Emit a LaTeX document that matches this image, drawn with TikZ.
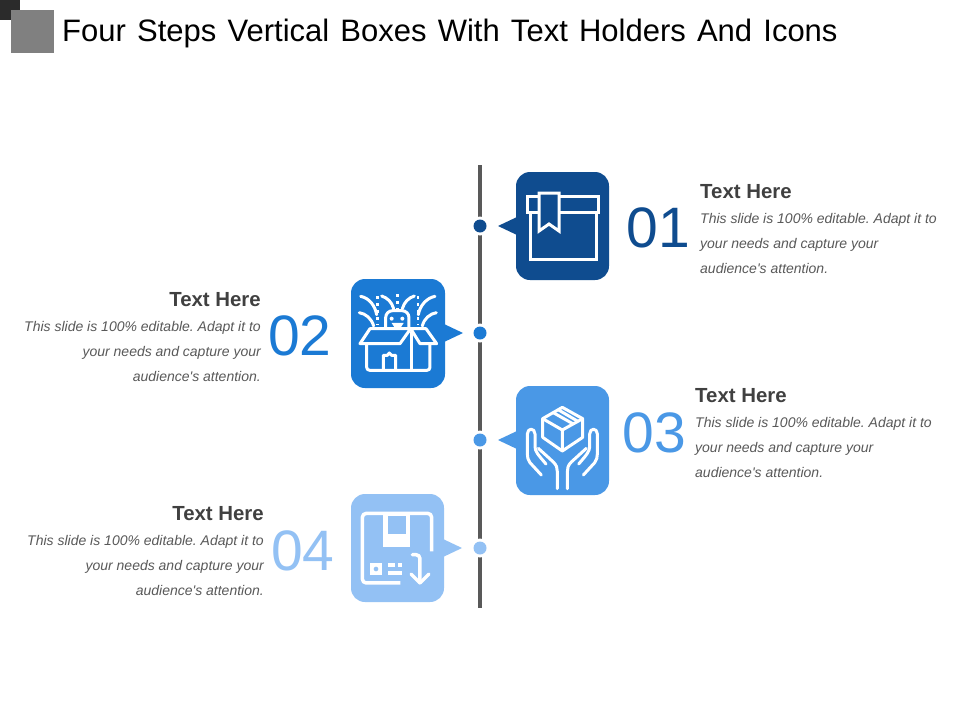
\documentclass[tikz,border=0pt]{standalone}
\usepackage{fontspec}
\setmainfont{Liberation Sans}
\frenchspacing
\definecolor{cA}{HTML}{0F4C8F}
\definecolor{cB}{HTML}{1B7AD4}
\definecolor{cC}{HTML}{4A98E6}
\definecolor{cD}{HTML}{93C1F4}
\definecolor{railc}{HTML}{595959}
\definecolor{headc}{HTML}{404040}
\definecolor{bodyc}{HTML}{595959}
\tikzset{
  x=1pt,y=-1pt,
  titletext/.style={anchor=base west,inner sep=0,font=\fontsize{31}{34}\selectfont,text=black},
  headtext/.style={inner sep=0,font=\fontsize{20.4}{24}\selectfont\bfseries,text=headc},
  bodytext/.style={inner sep=0,font=\fontsize{14}{18}\selectfont\itshape,text=bodyc},
  numtext/.style={anchor=base,inner sep=0,font=\fontsize{57}{60}\selectfont},
  ico/.style={draw=white,line width=3pt,line join=round,line cap=round},
  icothin/.style={draw=white,line width=3pt,line join=round,line cap=round},
  zoomed/.style={x=0.3333pt,y=-0.3333pt},
}
\newcommand{\rightpanel}[7]{% name, x, heading baseline, colour, num, numx, numbase
  \node[headtext,anchor=base west] (#1h) at (#2,#3) {Text Here};
  \node[bodytext,anchor=base west] (#1a) at (#2,#3+25.5) {This slide is 100\% editable. Adapt it to};
  \node[bodytext,anchor=base west] (#1b) at (#2,#3+50.5) {your needs and capture your};
  \node[bodytext,anchor=base west] (#1c) at (#2,#3+75.5) {audience\textquotesingle s attention.};
  \node[numtext,text=#4] (#1n) at (#6,#7) {#5};
}
\newcommand{\leftpanel}[7]{%
  \node[headtext,anchor=base east] (#1h) at (#2,#3) {Text Here};
  \node[bodytext,anchor=base east] (#1a) at (#2,#3+25.5) {This slide is 100\% editable. Adapt it to};
  \node[bodytext,anchor=base east] (#1b) at (#2,#3+50.5) {your needs and capture your};
  \node[bodytext,anchor=base east] (#1c) at (#2,#3+75.5) {audience\textquotesingle s attention.};
  \node[numtext,text=#4] (#1n) at (#6,#7) {#5};
}
\begin{document}
\begin{tikzpicture}
\useasboundingbox (0,0) rectangle (960,720);
\fill[white] (0,0) rectangle (960,720);
% header
\fill[black!83] (0,0) rectangle (20,20);
\fill[black!50] (11,10) rectangle (54,53);
\node[titletext] (title) at (62,41) {\spaceskip=11.2pt Four Steps Vertical Boxes With Text Holders And Icons};
% rail
\coordinate (railtop) at (480,165);
\coordinate (railbot) at (480,608);
\draw[railc,line width=3.5pt] (railtop) -- (railbot);
% dots
\foreach \n/\y/\c in {d1/226/cA,d2/333/cB,d3/440/cC,d4/548/cD}{
  \fill[white] (480,\y) circle (9.5);
  \fill[\c] (480,\y) circle (6.5);
}
% boxes
\fill[cA,rounded corners=14pt] (516,172) rectangle (609,280);
\fill[cA] (517,217) -- (498,226) -- (517,235) -- cycle;
\fill[cB,rounded corners=14pt] (351,279) rectangle (445,388);
\fill[cB] (444,324) -- (463,333) -- (444,342) -- cycle;
\fill[cC,rounded corners=14pt] (516,386) rectangle (609,495);
\fill[cC] (517,431) -- (498,440) -- (517,449) -- cycle;
\fill[cD,rounded corners=14pt] (351,494) rectangle (444,602);
\fill[cD] (443,539) -- (462,548) -- (443,557) -- cycle;
% icon 1
\draw[ico,line cap=butt,line join=miter] (530,212) -- (530,259) -- (596,259) -- (596,212);
\draw[ico,line cap=butt,line join=miter] (527,196) rectangle (598,212);
\draw[ico,fill=cA,line cap=butt,line join=miter] (539,193) -- (559,193) -- (559,231) -- (549,224) -- (539,231) -- cycle;
% icon 2
\begin{scope}[shift={(345,272)},zoomed]
\draw[icothin] (45,215) -- (75,170) -- (197,170) -- (165,215) -- cycle;
\draw[icothin] (197,170) -- (243,170) -- (275,215) -- (225,215) -- cycle;
\draw[icothin,rounded corners=3pt] (65,215) -- (65,295) -- (255,295) -- (255,215);
\draw[icothin] (200,180) -- (200,295);
\draw[icothin] (115,295) -- (115,250) -- (127,250) -- (133,243) -- (140,250) -- (152,250) -- (152,295);
\draw[icothin,rounded corners=7pt] (122,168) -- (122,116) -- (192,116) -- (192,168);
\fill[white] (140,140) circle (6) (172,140) circle (6);
\fill[white] (140,153) -- (176,153) -- (167,167) -- (149,167) -- cycle;
\draw[icothin] (47,73) .. controls (72,78) and (90,100) .. (95,128);
\draw[icothin] (43,122) .. controls (62,125) and (80,140) .. (86,162);
\draw[icothin] (110,72) .. controls (128,78) and (140,90) .. (146,110);
\draw[icothin] (270,73) .. controls (245,78) and (225,100) .. (220,128);
\draw[icothin] (274,122) .. controls (255,125) and (237,140) .. (232,162);
\draw[icothin] (208,72) .. controls (190,78) and (178,90) .. (172,110);
\draw[white,line width=2.4pt,dash pattern=on 3pt off 4pt] (97,72) -- (97,158);
\draw[white,line width=2.4pt,dash pattern=on 3pt off 4pt] (158,66) -- (158,112);
\draw[white,line width=2.4pt,dash pattern=on 3pt off 4pt] (219,72) -- (219,158);
\end{scope}
% icon 3
\begin{scope}[shift={(470,380)},zoomed]
\draw[ico] (277,82) -- (338,116) -- (338,172) -- (277,213) -- (218,172) -- (218,116) -- cycle;
\draw[ico] (218,116) -- (277,150) -- (338,116) (277,150) -- (277,213);
\draw[icothin] (250,98) -- (308,131);
\draw[icothin] (266,90) -- (322,123);
\foreach \shiftx/\s in {0pt/1,184.66pt/-1}{
  \begin{scope}[xshift=\shiftx,xscale=\s]
  \draw[ico] (214,285) -- (180,248) .. controls (174,240) and (172,232) .. (172,222) -- (172,162) .. controls (172,143) and (195,143) .. (195,162) -- (195,200) .. controls (195,214) and (204,224) .. (228,252);
  \draw[ico] (205,205) -- (250,246) .. controls (260,256) and (262,264) .. (262,275) -- (262,326);
  \end{scope}
}
\end{scope}
% icon 4
\begin{scope}[shift={(345,488)},zoomed]
\fill[white] (114,78) rectangle (196,177);
\fill[cD] (128,84) rectangle (183,138);
\draw[ico,line width=3.5pt,rounded corners=4pt,line cap=butt] (166,285) -- (52,285) -- (52,76) -- (260,76) -- (260,190);
\fill[white] (75,225) rectangle (112,262);
\fill[cD] (93,243) circle (7);
\fill[white] (130,225) rectangle (150,236);
\fill[white] (158,225) rectangle (170,236);
\fill[white] (130,250) rectangle (170,262);
\draw[ico,line width=3.5pt,rounded corners=4pt] (202,200) -- (225,200) -- (225,285);
\draw[ico,line width=3.5pt] (198,258) -- (225,285) -- (252,258);
\end{scope}
% texts
\rightpanel{p1}{700}{198}{cA}{01}{658.5}{247}
\leftpanel{p2}{261}{306}{cB}{02}{300}{355}
\rightpanel{p3}{695}{402}{cC}{03}{654}{452}
\leftpanel{p4}{264}{520}{cD}{04}{303}{570}
\end{tikzpicture}
\end{document}
